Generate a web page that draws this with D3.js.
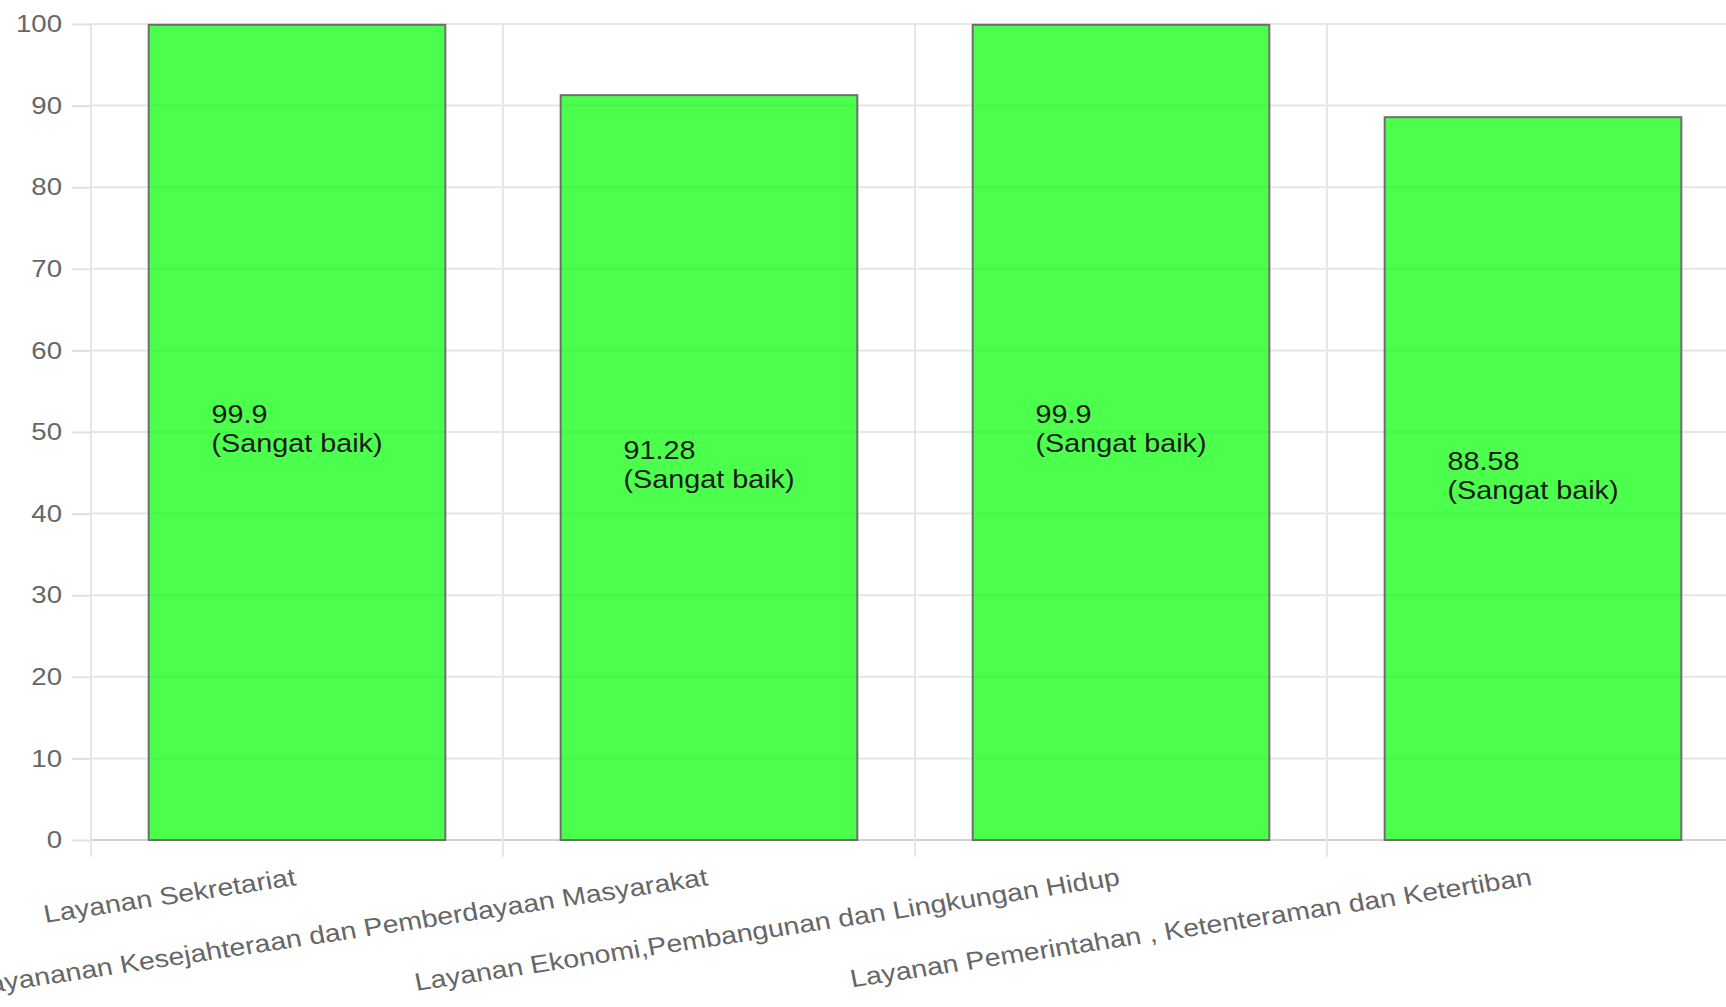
<!DOCTYPE html>
<html>
<head>
<meta charset="utf-8">
<script src="https://cdn.jsdelivr.net/npm/d3@7"></script>
<style>
  html, body { margin: 0; padding: 0; background: #fff; }
  svg { display: block; font-family: "Liberation Sans", Arial, Helvetica, sans-serif; }
</style>
</head>
<body>
<svg id="chart" width="1726" height="1007"></svg>
<script>
// ---- data ----
const categories = [
  "Layanan Sekretariat",
  "Layananan Kesejahteraan dan Pemberdayaan Masyarakat",
  "Layanan Ekonomi,Pembangunan dan Lingkungan Hidup",
  "Layanan Pemerintahan , Ketenteraman dan Ketertiban"
];
const values = [99.9, 91.28, 99.9, 88.58];
const ratings = ["(Sangat baik)", "(Sangat baik)", "(Sangat baik)", "(Sangat baik)"];
const yTicks = [0, 10, 20, 30, 40, 50, 60, 70, 80, 90, 100];

(function () {
  // ---- layout ----
  const W = 1726;
  const pLeft = 91, pTop = 24, pBottom = 840, pRight = 1739;
  const SX = 1.15; // horizontal stretch of original canvas text
  const svg = d3.select("#chart");

  const x = d3.scaleBand().domain(categories).range([pLeft, pRight]).paddingInner(0.28).paddingOuter(0.14);
  const y = d3.scaleLinear().domain([0, 100]).range([pBottom, pTop]);

  // horizontal gridlines
  svg.append("g").selectAll("line").data(yTicks).join("line")
    .attr("x1", pLeft).attr("x2", W)
    .attr("y1", d => y(d)).attr("y2", d => y(d))
    .attr("stroke", d => d === 0 ? "#d2d2d2" : "#e6e6e6")
    .attr("stroke-width", 2);

  // vertical gridlines at category boundaries
  const bounds = d3.range(categories.length + 1).map(i => pLeft + i * x.step());
  svg.append("g").selectAll("line").data(bounds).join("line")
    .attr("x1", d => d).attr("x2", d => d)
    .attr("y1", pTop).attr("y2", pBottom + 17)
    .attr("stroke", "#e6e6e6").attr("stroke-width", 2);

  // y axis
  const yAxis = svg.append("g").attr("transform", `translate(${pLeft},0)`)
    .call(d3.axisLeft(y).tickValues(yTicks).tickSize(19).tickPadding(10));
  yAxis.select(".domain").remove();
  yAxis.selectAll(".tick line").attr("stroke", "#e0e0e0").attr("stroke-width", 2);
  yAxis.selectAll(".tick text")
    .attr("font-size", 24).attr("fill", "#666")
    .attr("font-family", "'Liberation Sans', Arial, Helvetica, sans-serif")
    .attr("x", -29 / SX)
    .attr("transform", `scale(${SX},1)`);

  // bars
  svg.append("g").selectAll("rect").data(categories).join("rect")
    .attr("x", d => x(d))
    .attr("y", (d, i) => y(values[i]))
    .attr("width", x.bandwidth())
    .attr("height", (d, i) => y(0) - y(values[i]))
    .attr("fill", "rgba(0,255,0,0.7)")
    .attr("stroke", "#6e6e6e")
    .attr("stroke-width", 2);

  // x labels (rotated, stretched)
  svg.append("g").selectAll("text").data(categories).join("text")
    .attr("transform", d => `translate(${x(d) + x.bandwidth() / 2},885) scale(${SX},1) rotate(-9.8)`)
    .attr("text-anchor", "end")
    .attr("font-size", 24.8)
    .attr("fill", "#666")
    .text(d => d);

  // data labels
  const lab = svg.append("g");
  categories.forEach((c, i) => {
    const cx = x(c) + x.bandwidth() / 2;
    const mid = (y(values[i]) + y(0)) / 2;
    const t = lab.append("text")
      .attr("font-size", 25).attr("fill", "#1a1a1a");
    t.append("tspan").attr("x", 0).attr("y", 0).text(String(values[i]));
    t.append("tspan").attr("x", 0).attr("y", 29).text(ratings[i]);
    const w = t.node().getBBox().width * SX;
    t.attr("transform", `translate(${cx - w / 2},${mid - 9}) scale(${SX},1)`);
  });
})();
</script>
</body>
</html>
